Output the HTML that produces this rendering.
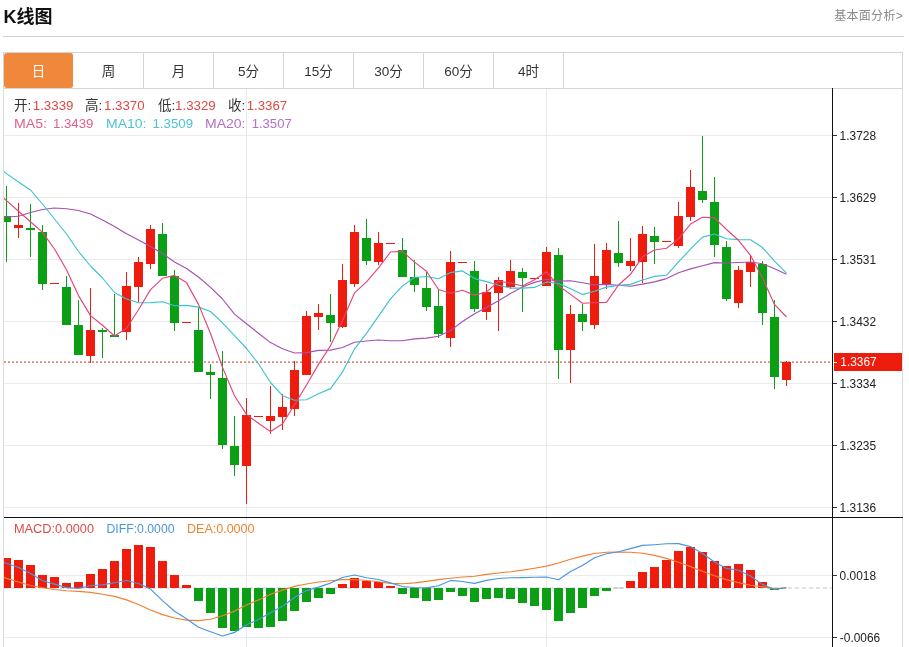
<!DOCTYPE html>
<html lang="zh-CN">
<head>
<meta charset="utf-8">
<title>K线图</title>
<style>
html,body{margin:0;padding:0;background:#fff;}
body{width:909px;height:647px;position:relative;overflow:hidden;font-family:"Liberation Sans","Noto Sans CJK SC",sans-serif;color:#333;}
.title{position:absolute;left:3.5px;top:4px;font-size:18px;font-weight:bold;line-height:26px;color:#111;letter-spacing:0;}
.more{position:absolute;right:6px;top:7px;font-size:12px;line-height:18px;color:#8a8a8a;letter-spacing:0.3px;}
.hr{position:absolute;left:3px;top:36px;width:901px;height:1px;background:#cfcfcf;}
.tabs{position:absolute;left:3px;top:52px;width:898px;height:35px;border:1px solid #d4d4d4;}
.tab{float:left;width:69px;height:35px;line-height:37px;text-align:center;font-size:13.5px;border-right:1px solid #d4d4d4;color:#333;}
.tab.on{background:#f0883c;color:#fff;border-radius:3px;border-right-color:#fff;}
.chart{position:absolute;left:0;top:88px;}
</style>
</head>
<body>
<div class="title">K线图</div>
<div class="more">基本面分析&gt;</div>
<div class="hr"></div>
<div class="tabs">
<div class="tab on">日</div><div class="tab">周</div><div class="tab">月</div><div class="tab">5分</div><div class="tab">15分</div><div class="tab">30分</div><div class="tab">60分</div><div class="tab">4时</div>
</div>
<svg class="chart" width="909" height="559" viewBox="0 88 909 559">
<defs><clipPath id="cp"><rect x="4" y="89" width="828" height="558"/></clipPath></defs>
<g stroke="#ebebeb" stroke-width="1" shape-rendering="crispEdges">
<line x1="4" y1="135.5" x2="832" y2="135.5"/>
<line x1="4" y1="197.5" x2="832" y2="197.5"/>
<line x1="4" y1="259.5" x2="832" y2="259.5"/>
<line x1="4" y1="321.5" x2="832" y2="321.5"/>
<line x1="4" y1="383.5" x2="832" y2="383.5"/>
<line x1="4" y1="445.5" x2="832" y2="445.5"/>
<line x1="4" y1="507.5" x2="832" y2="507.5"/>
<line x1="4" y1="575.5" x2="832" y2="575.5"/>
<line x1="4" y1="637.5" x2="832" y2="637.5"/>
<line x1="246.5" y1="89" x2="246.5" y2="647" stroke="#e6eaee"/>
<line x1="546.5" y1="89" x2="546.5" y2="647" stroke="#e6eaee"/>
</g>
<g shape-rendering="crispEdges">
<line x1="3.5" y1="88" x2="3.5" y2="647" stroke="#dedede"/>
<line x1="902.5" y1="88" x2="902.5" y2="647" stroke="#dedede"/>
<line x1="832.5" y1="88" x2="832.5" y2="647" stroke="#111"/>
<line x1="4" y1="517.5" x2="903" y2="517.5" stroke="#111" stroke-width="1"/>
</g>
<g stroke="#333" shape-rendering="crispEdges">
<line x1="833" y1="135.5" x2="837" y2="135.5"/>
<line x1="833" y1="197.5" x2="837" y2="197.5"/>
<line x1="833" y1="259.5" x2="837" y2="259.5"/>
<line x1="833" y1="321.5" x2="837" y2="321.5"/>
<line x1="833" y1="383.5" x2="837" y2="383.5"/>
<line x1="833" y1="445.5" x2="837" y2="445.5"/>
<line x1="833" y1="507.5" x2="837" y2="507.5"/>
<line x1="833" y1="575.5" x2="837" y2="575.5"/>
<line x1="833" y1="637.5" x2="837" y2="637.5"/>
</g>
<g font-family="'Liberation Sans', sans-serif" font-size="12" fill="#222">
<text x="839.6" y="139.5" textLength="36.4" lengthAdjust="spacingAndGlyphs">1.3728</text>
<text x="839.6" y="201.5" textLength="36.4" lengthAdjust="spacingAndGlyphs">1.3629</text>
<text x="839.6" y="263.5" textLength="36.4" lengthAdjust="spacingAndGlyphs">1.3531</text>
<text x="839.6" y="325.5" textLength="36.4" lengthAdjust="spacingAndGlyphs">1.3432</text>
<text x="839.6" y="387.5" textLength="36.4" lengthAdjust="spacingAndGlyphs">1.3334</text>
<text x="839.6" y="449.5" textLength="36.4" lengthAdjust="spacingAndGlyphs">1.3235</text>
<text x="839.6" y="511.5" textLength="36.4" lengthAdjust="spacingAndGlyphs">1.3136</text>
<text x="839.6" y="579.5" textLength="36.4" lengthAdjust="spacingAndGlyphs">0.0018</text>
<text x="839.8" y="641.5" textLength="40.4" lengthAdjust="spacingAndGlyphs">-0.0066</text>
</g>
<line x1="4" y1="588" x2="832" y2="588" stroke="#b4cad6" stroke-width="1" stroke-dasharray="4 3"/>
<g clip-path="url(#cp)" shape-rendering="crispEdges">
<rect x="2" y="558" width="9" height="30" fill="#ee1c0c"/>
<rect x="14" y="560" width="9" height="28" fill="#ee1c0c"/>
<rect x="26" y="565" width="9" height="23" fill="#ee1c0c"/>
<rect x="38" y="575" width="9" height="13" fill="#ee1c0c"/>
<rect x="50" y="577" width="9" height="11" fill="#ee1c0c"/>
<rect x="62" y="583" width="9" height="5" fill="#ee1c0c"/>
<rect x="74" y="582" width="9" height="6" fill="#ee1c0c"/>
<rect x="86" y="574" width="9" height="14" fill="#ee1c0c"/>
<rect x="98" y="569" width="9" height="19" fill="#ee1c0c"/>
<rect x="110" y="561" width="9" height="27" fill="#ee1c0c"/>
<rect x="122" y="549" width="9" height="39" fill="#ee1c0c"/>
<rect x="134" y="545" width="9" height="43" fill="#ee1c0c"/>
<rect x="146" y="547" width="9" height="41" fill="#ee1c0c"/>
<rect x="158" y="561" width="9" height="27" fill="#ee1c0c"/>
<rect x="170" y="575" width="9" height="13" fill="#ee1c0c"/>
<rect x="182" y="585" width="9" height="3" fill="#ee1c0c"/>
<rect x="194" y="588" width="9" height="13" fill="#0a9f14"/>
<rect x="206" y="588" width="9" height="25" fill="#0a9f14"/>
<rect x="218" y="588" width="9" height="40" fill="#0a9f14"/>
<rect x="230" y="588" width="9" height="43" fill="#0a9f14"/>
<rect x="242" y="588" width="9" height="39" fill="#0a9f14"/>
<rect x="254" y="588" width="9" height="40" fill="#0a9f14"/>
<rect x="266" y="588" width="9" height="39" fill="#0a9f14"/>
<rect x="278" y="588" width="9" height="33" fill="#0a9f14"/>
<rect x="290" y="588" width="9" height="23" fill="#0a9f14"/>
<rect x="302" y="588" width="9" height="14" fill="#0a9f14"/>
<rect x="314" y="588" width="9" height="10" fill="#0a9f14"/>
<rect x="326" y="588" width="9" height="6" fill="#0a9f14"/>
<rect x="338" y="584" width="9" height="4" fill="#ee1c0c"/>
<rect x="350" y="578" width="9" height="10" fill="#ee1c0c"/>
<rect x="362" y="581" width="9" height="7" fill="#ee1c0c"/>
<rect x="374" y="582" width="9" height="6" fill="#ee1c0c"/>
<rect x="386" y="586" width="9" height="2" fill="#ee1c0c"/>
<rect x="398" y="588" width="9" height="6" fill="#0a9f14"/>
<rect x="410" y="588" width="9" height="10" fill="#0a9f14"/>
<rect x="422" y="588" width="9" height="13" fill="#0a9f14"/>
<rect x="434" y="588" width="9" height="12" fill="#0a9f14"/>
<rect x="446" y="588" width="9" height="4" fill="#0a9f14"/>
<rect x="458" y="588" width="9" height="8" fill="#0a9f14"/>
<rect x="470" y="588" width="9" height="14" fill="#0a9f14"/>
<rect x="482" y="588" width="9" height="11" fill="#0a9f14"/>
<rect x="494" y="588" width="9" height="10" fill="#0a9f14"/>
<rect x="506" y="588" width="9" height="11" fill="#0a9f14"/>
<rect x="518" y="588" width="9" height="15" fill="#0a9f14"/>
<rect x="530" y="588" width="9" height="18" fill="#0a9f14"/>
<rect x="542" y="588" width="9" height="22" fill="#0a9f14"/>
<rect x="554" y="588" width="9" height="33" fill="#0a9f14"/>
<rect x="566" y="588" width="9" height="25" fill="#0a9f14"/>
<rect x="578" y="588" width="9" height="20" fill="#0a9f14"/>
<rect x="590" y="588" width="9" height="8" fill="#0a9f14"/>
<rect x="602" y="588" width="9" height="3" fill="#0a9f14"/>
<rect x="614" y="587.5" width="9" height="1" fill="#b9b9b9" shape-rendering="auto"/>
<rect x="626" y="581" width="9" height="7" fill="#ee1c0c"/>
<rect x="638" y="572" width="9" height="16" fill="#ee1c0c"/>
<rect x="650" y="567" width="9" height="21" fill="#ee1c0c"/>
<rect x="662" y="560" width="9" height="28" fill="#ee1c0c"/>
<rect x="674" y="551" width="9" height="37" fill="#ee1c0c"/>
<rect x="686" y="547" width="9" height="41" fill="#ee1c0c"/>
<rect x="698" y="552" width="9" height="36" fill="#ee1c0c"/>
<rect x="710" y="561" width="9" height="27" fill="#ee1c0c"/>
<rect x="722" y="566" width="9" height="22" fill="#ee1c0c"/>
<rect x="734" y="564" width="9" height="24" fill="#ee1c0c"/>
<rect x="746" y="570" width="9" height="18" fill="#ee1c0c"/>
<rect x="758" y="582" width="9" height="6" fill="#ee1c0c"/>
<rect x="770" y="588" width="9" height="2" fill="#0a9f14"/>
</g>
<line x1="4" y1="362.1" x2="832" y2="362.1" stroke="rgb(205,45,25)" stroke-opacity="0.78" stroke-width="1.1" stroke-dasharray="2 2"/>
<g clip-path="url(#cp)" shape-rendering="crispEdges">
<rect x="6" y="186" width="1" height="76" fill="#0a9f14"/>
<rect x="2" y="216" width="9" height="6" fill="#0a9f14"/>
<rect x="18" y="203" width="1" height="35" fill="#ee1c0c"/>
<rect x="14" y="225" width="9" height="3" fill="#ee1c0c"/>
<rect x="30" y="204" width="1" height="53" fill="#0a9f14"/>
<rect x="26" y="228" width="9" height="2" fill="#0a9f14"/>
<rect x="42" y="225" width="1" height="65" fill="#0a9f14"/>
<rect x="38" y="232" width="9" height="52" fill="#0a9f14"/>
<rect x="50" y="283" width="9" height="1" fill="#ee1c0c"/>
<rect x="66" y="276" width="1" height="49" fill="#0a9f14"/>
<rect x="62" y="287" width="9" height="38" fill="#0a9f14"/>
<rect x="78" y="300" width="1" height="55" fill="#0a9f14"/>
<rect x="74" y="325" width="9" height="30" fill="#0a9f14"/>
<rect x="90" y="288" width="1" height="75" fill="#ee1c0c"/>
<rect x="86" y="330" width="9" height="26" fill="#ee1c0c"/>
<rect x="102" y="328" width="1" height="30" fill="#0a9f14"/>
<rect x="98" y="330" width="9" height="2" fill="#0a9f14"/>
<rect x="114" y="294" width="1" height="43" fill="#0a9f14"/>
<rect x="110" y="335" width="9" height="2" fill="#0a9f14"/>
<rect x="126" y="272" width="1" height="68" fill="#ee1c0c"/>
<rect x="122" y="286" width="9" height="46" fill="#ee1c0c"/>
<rect x="138" y="257" width="1" height="45" fill="#ee1c0c"/>
<rect x="134" y="262" width="9" height="25" fill="#ee1c0c"/>
<rect x="150" y="225" width="1" height="44" fill="#ee1c0c"/>
<rect x="146" y="229" width="9" height="35" fill="#ee1c0c"/>
<rect x="162" y="223" width="1" height="53" fill="#0a9f14"/>
<rect x="158" y="234" width="9" height="42" fill="#0a9f14"/>
<rect x="174" y="270" width="1" height="61" fill="#0a9f14"/>
<rect x="170" y="276" width="9" height="47" fill="#0a9f14"/>
<rect x="182" y="322" width="9" height="1" fill="#ee1c0c"/>
<rect x="198" y="308" width="1" height="64" fill="#0a9f14"/>
<rect x="194" y="330" width="9" height="42" fill="#0a9f14"/>
<rect x="210" y="364" width="1" height="35" fill="#0a9f14"/>
<rect x="206" y="372" width="9" height="3" fill="#0a9f14"/>
<rect x="222" y="351" width="1" height="98" fill="#0a9f14"/>
<rect x="218" y="378" width="9" height="67" fill="#0a9f14"/>
<rect x="234" y="416" width="1" height="60" fill="#0a9f14"/>
<rect x="230" y="446" width="9" height="19" fill="#0a9f14"/>
<rect x="246" y="398" width="1" height="106" fill="#ee1c0c"/>
<rect x="242" y="415" width="9" height="51" fill="#ee1c0c"/>
<rect x="254" y="416" width="9" height="1" fill="#ee1c0c"/>
<rect x="270" y="386" width="1" height="48" fill="#ee1c0c"/>
<rect x="266" y="416" width="9" height="5" fill="#ee1c0c"/>
<rect x="282" y="394" width="1" height="36" fill="#ee1c0c"/>
<rect x="278" y="407" width="9" height="10" fill="#ee1c0c"/>
<rect x="294" y="361" width="1" height="55" fill="#ee1c0c"/>
<rect x="290" y="370" width="9" height="39" fill="#ee1c0c"/>
<rect x="306" y="311" width="1" height="64" fill="#ee1c0c"/>
<rect x="302" y="316" width="9" height="59" fill="#ee1c0c"/>
<rect x="318" y="304" width="1" height="26" fill="#ee1c0c"/>
<rect x="314" y="313" width="9" height="4" fill="#ee1c0c"/>
<rect x="330" y="294" width="1" height="48" fill="#0a9f14"/>
<rect x="326" y="315" width="9" height="8" fill="#0a9f14"/>
<rect x="342" y="264" width="1" height="64" fill="#ee1c0c"/>
<rect x="338" y="280" width="9" height="47" fill="#ee1c0c"/>
<rect x="354" y="225" width="1" height="62" fill="#ee1c0c"/>
<rect x="350" y="232" width="9" height="52" fill="#ee1c0c"/>
<rect x="366" y="219" width="1" height="46" fill="#0a9f14"/>
<rect x="362" y="238" width="9" height="23" fill="#0a9f14"/>
<rect x="378" y="232" width="1" height="33" fill="#ee1c0c"/>
<rect x="374" y="243" width="9" height="19" fill="#ee1c0c"/>
<rect x="386" y="243" width="9" height="1" fill="#ee1c0c"/>
<rect x="402" y="238" width="1" height="39" fill="#0a9f14"/>
<rect x="398" y="250" width="9" height="27" fill="#0a9f14"/>
<rect x="414" y="260" width="1" height="32" fill="#0a9f14"/>
<rect x="410" y="277" width="9" height="8" fill="#0a9f14"/>
<rect x="426" y="272" width="1" height="39" fill="#0a9f14"/>
<rect x="422" y="288" width="9" height="19" fill="#0a9f14"/>
<rect x="438" y="290" width="1" height="48" fill="#0a9f14"/>
<rect x="434" y="306" width="9" height="28" fill="#0a9f14"/>
<rect x="450" y="251" width="1" height="96" fill="#ee1c0c"/>
<rect x="446" y="262" width="9" height="76" fill="#ee1c0c"/>
<rect x="458" y="262" width="9" height="1" fill="#ee1c0c"/>
<rect x="474" y="261" width="1" height="51" fill="#0a9f14"/>
<rect x="470" y="271" width="9" height="38" fill="#0a9f14"/>
<rect x="486" y="284" width="1" height="36" fill="#ee1c0c"/>
<rect x="482" y="292" width="9" height="20" fill="#ee1c0c"/>
<rect x="498" y="277" width="1" height="54" fill="#ee1c0c"/>
<rect x="494" y="280" width="9" height="13" fill="#ee1c0c"/>
<rect x="510" y="260" width="1" height="29" fill="#ee1c0c"/>
<rect x="506" y="271" width="9" height="16" fill="#ee1c0c"/>
<rect x="522" y="268" width="1" height="44" fill="#0a9f14"/>
<rect x="518" y="272" width="9" height="6" fill="#0a9f14"/>
<rect x="530" y="278" width="9" height="1" fill="#ee1c0c"/>
<rect x="546" y="247" width="1" height="39" fill="#ee1c0c"/>
<rect x="542" y="252" width="9" height="34" fill="#ee1c0c"/>
<rect x="558" y="248" width="1" height="131" fill="#0a9f14"/>
<rect x="554" y="255" width="9" height="95" fill="#0a9f14"/>
<rect x="570" y="305" width="1" height="78" fill="#ee1c0c"/>
<rect x="566" y="314" width="9" height="36" fill="#ee1c0c"/>
<rect x="582" y="304" width="1" height="27" fill="#0a9f14"/>
<rect x="578" y="314" width="9" height="8" fill="#0a9f14"/>
<rect x="594" y="244" width="1" height="85" fill="#ee1c0c"/>
<rect x="590" y="276" width="9" height="49" fill="#ee1c0c"/>
<rect x="606" y="243" width="1" height="46" fill="#ee1c0c"/>
<rect x="602" y="250" width="9" height="34" fill="#ee1c0c"/>
<rect x="618" y="221" width="1" height="46" fill="#0a9f14"/>
<rect x="614" y="253" width="9" height="10" fill="#0a9f14"/>
<rect x="630" y="238" width="1" height="33" fill="#ee1c0c"/>
<rect x="626" y="261" width="9" height="5" fill="#ee1c0c"/>
<rect x="642" y="226" width="1" height="57" fill="#ee1c0c"/>
<rect x="638" y="234" width="9" height="28" fill="#ee1c0c"/>
<rect x="654" y="227" width="1" height="37" fill="#0a9f14"/>
<rect x="650" y="236" width="9" height="6" fill="#0a9f14"/>
<rect x="662" y="241" width="9" height="1" fill="#ee1c0c"/>
<rect x="678" y="202" width="1" height="46" fill="#ee1c0c"/>
<rect x="674" y="216" width="9" height="30" fill="#ee1c0c"/>
<rect x="690" y="170" width="1" height="51" fill="#ee1c0c"/>
<rect x="686" y="187" width="9" height="30" fill="#ee1c0c"/>
<rect x="702" y="136" width="1" height="67" fill="#0a9f14"/>
<rect x="698" y="191" width="9" height="9" fill="#0a9f14"/>
<rect x="714" y="177" width="1" height="80" fill="#0a9f14"/>
<rect x="710" y="202" width="9" height="43" fill="#0a9f14"/>
<rect x="726" y="241" width="1" height="60" fill="#0a9f14"/>
<rect x="722" y="247" width="9" height="52" fill="#0a9f14"/>
<rect x="738" y="266" width="1" height="42" fill="#ee1c0c"/>
<rect x="734" y="270" width="9" height="33" fill="#ee1c0c"/>
<rect x="750" y="256" width="1" height="31" fill="#ee1c0c"/>
<rect x="746" y="262" width="9" height="10" fill="#ee1c0c"/>
<rect x="762" y="261" width="1" height="64" fill="#0a9f14"/>
<rect x="758" y="264" width="9" height="49" fill="#0a9f14"/>
<rect x="774" y="300" width="1" height="89" fill="#0a9f14"/>
<rect x="770" y="317" width="9" height="60" fill="#0a9f14"/>
<rect x="786" y="361" width="1" height="25" fill="#ee1c0c"/>
<rect x="782" y="362" width="9" height="18" fill="#ee1c0c"/>
</g>
<g clip-path="url(#cp)">
<polyline points="-5.5,217.3 6.5,217.0 18.5,216.2 30.5,212.5 42.5,209.5 54.5,208.0 66.5,208.7 78.5,210.5 90.5,214.0 102.5,220.0 114.5,226.5 126.5,233.7 138.5,240.0 150.5,246.5 162.5,253.5 174.5,262.0 186.5,268.5 198.5,277.0 210.5,287.4 222.5,299.0 234.5,314.1 246.5,323.7 258.5,333.3 270.5,342.6 282.5,348.7 294.5,353.0 306.5,352.6 318.5,350.4 330.5,350.1 342.5,347.5 354.5,342.2 366.5,341.0 378.5,340.0 390.5,340.7 402.5,340.8 414.5,338.9 426.5,338.1 438.5,336.3 450.5,330.6 462.5,321.5 474.5,313.7 486.5,307.5 498.5,300.7 510.5,293.5 522.5,287.0 534.5,282.4 546.5,279.2 558.5,281.1 570.5,280.7 582.5,282.7 594.5,284.9 606.5,284.4 618.5,285.3 630.5,286.2 642.5,284.1 654.5,281.9 666.5,278.6 678.5,272.7 690.5,268.9 702.5,265.8 714.5,262.6 726.5,263.0 738.5,262.5 750.5,262.0 762.5,263.8 774.5,268.8 786.5,274.3" fill="none" stroke="#a64fb5" stroke-width="1.15" stroke-linejoin="round" />
<polyline points="-5.5,165.0 6.5,173.6 18.5,182.0 30.5,190.0 42.5,204.0 54.5,219.0 66.5,234.0 78.5,251.5 90.5,266.0 102.5,278.0 114.5,292.5 126.5,299.0 138.5,302.7 150.5,302.6 162.5,301.7 174.5,305.7 186.5,305.4 198.5,307.1 210.5,311.5 222.5,322.8 234.5,335.6 246.5,348.5 258.5,363.8 270.5,382.5 282.5,395.7 294.5,400.3 306.5,399.7 318.5,393.8 330.5,388.6 342.5,372.1 354.5,348.9 366.5,333.4 378.5,316.1 390.5,298.9 402.5,285.9 414.5,277.5 426.5,276.5 438.5,278.7 450.5,272.6 462.5,270.9 474.5,278.6 486.5,281.6 498.5,285.3 510.5,288.1 522.5,288.1 534.5,287.4 546.5,281.9 558.5,283.5 570.5,288.7 582.5,294.6 594.5,291.2 606.5,287.1 618.5,285.4 630.5,284.4 642.5,280.0 654.5,276.4 666.5,275.3 678.5,261.9 690.5,249.2 702.5,237.1 714.5,234.0 726.5,238.8 738.5,239.6 750.5,239.7 762.5,247.6 774.5,261.1 786.5,273.2" fill="none" stroke="#3dc2d0" stroke-width="1.15" stroke-linejoin="round" />
<polyline points="-5.5,190.0 6.5,200.6 18.5,211.2 30.5,221.8 42.5,232.4 54.5,249.0 66.5,269.7 78.5,295.6 90.5,315.6 102.5,325.2 114.5,336.0 126.5,328.3 138.5,309.7 150.5,289.6 162.5,278.3 174.5,275.4 186.5,282.6 198.5,304.4 210.5,333.5 222.5,367.4 234.5,395.8 246.5,414.4 258.5,423.3 270.5,431.6 282.5,423.9 294.5,404.8 306.5,385.0 318.5,364.4 330.5,345.7 342.5,320.4 354.5,292.9 366.5,281.9 378.5,267.9 390.5,252.0 402.5,251.4 414.5,262.1 426.5,271.2 438.5,289.5 450.5,293.3 462.5,290.3 474.5,295.1 486.5,292.1 498.5,281.2 510.5,283.0 522.5,286.0 534.5,279.8 546.5,271.8 558.5,285.8 570.5,294.4 582.5,303.2 594.5,302.7 606.5,302.4 618.5,285.0 630.5,274.3 642.5,256.8 654.5,250.0 666.5,248.2 678.5,238.9 690.5,224.1 702.5,217.3 714.5,217.9 726.5,229.5 738.5,240.3 750.5,255.3 762.5,277.9 774.5,304.4 786.5,317.0" fill="none" stroke="#e2457a" stroke-width="1.15" stroke-linejoin="round" />
<polyline points="-5.5,574.8 6.5,578.4 18.5,582.0 30.5,585.5 42.5,587.8 54.5,589.5 66.5,590.7 78.5,591.4 90.5,592.4 102.5,594.2 114.5,596.4 126.5,599.9 138.5,604.5 150.5,610.0 162.5,614.6 174.5,618.0 186.5,620.1 198.5,620.6 210.5,619.3 222.5,615.8 234.5,611.1 246.5,605.0 258.5,599.9 270.5,594.2 282.5,590.1 294.5,586.4 306.5,584.0 318.5,582.0 330.5,580.8 342.5,579.6 354.5,579.5 366.5,580.5 378.5,581.7 390.5,583.4 402.5,583.8 414.5,582.9 426.5,581.4 438.5,579.6 450.5,578.3 462.5,577.0 474.5,576.2 486.5,574.4 498.5,573.0 510.5,571.7 522.5,570.1 534.5,568.2 546.5,566.1 558.5,563.0 570.5,559.2 582.5,556.1 594.5,553.5 606.5,552.3 618.5,552.0 630.5,552.3 642.5,553.2 654.5,555.4 666.5,558.4 678.5,562.3 690.5,566.6 702.5,571.3 714.5,575.7 726.5,579.6 738.5,582.6 750.5,585.2 762.5,586.9 774.5,588.6 786.5,587.8" fill="none" stroke="#f08030" stroke-width="1.15" stroke-linejoin="round" />
<polyline points="-5.5,559.5 6.5,563.3 18.5,567.5 30.5,573.6 42.5,580.8 54.5,584.1 66.5,587.6 78.5,588.4 90.5,585.8 102.5,584.9 114.5,582.7 126.5,580.5 138.5,583.5 150.5,589.1 162.5,600.6 174.5,611.3 186.5,618.8 198.5,627.3 210.5,631.8 222.5,636.0 234.5,632.4 246.5,624.7 258.5,619.5 270.5,612.8 282.5,606.2 294.5,597.5 306.5,590.6 318.5,587.1 330.5,583.1 342.5,577.5 354.5,575.0 366.5,577.8 378.5,579.5 390.5,582.9 402.5,586.5 414.5,587.5 426.5,587.9 438.5,585.8 450.5,580.4 462.5,581.5 474.5,583.4 486.5,580.4 498.5,578.5 510.5,577.7 522.5,577.6 534.5,577.3 546.5,577.0 558.5,579.8 570.5,571.5 582.5,565.4 594.5,557.8 606.5,553.7 618.5,551.7 630.5,548.6 642.5,545.4 654.5,544.7 666.5,543.8 678.5,543.6 690.5,546.6 702.5,553.5 714.5,562.0 726.5,568.4 738.5,570.2 750.5,576.0 762.5,584.6 774.5,589.3 786.5,587.8" fill="none" stroke="#4a96e0" stroke-width="1.15" stroke-linejoin="round" />
</g>
<rect x="834" y="353" width="68" height="18" fill="#ee1c0c" shape-rendering="crispEdges"/>
<line x1="833" y1="362.5" x2="837" y2="362.5" stroke="#fff" shape-rendering="crispEdges"/>
<text x="840.3" y="366.4" font-family="'Liberation Sans', sans-serif" font-size="12" fill="#fff" textLength="36.4" lengthAdjust="spacingAndGlyphs">1.3367</text>
<g font-family="'Liberation Sans', 'Noto Sans CJK SC', sans-serif" font-size="13.5">
<text y="110.1"><tspan x="14" fill="#333">开:</tspan><tspan x="32.8" fill="#dc4a44" textLength="40.6" lengthAdjust="spacingAndGlyphs">1.3339</tspan></text>
<text y="110.1"><tspan x="85" fill="#333">高:</tspan><tspan x="104" fill="#dc4a44" textLength="40.6" lengthAdjust="spacingAndGlyphs">1.3370</tspan></text>
<text y="110.1"><tspan x="158" fill="#333">低:</tspan><tspan x="175.1" fill="#dc4a44" textLength="40.6" lengthAdjust="spacingAndGlyphs">1.3329</tspan></text>
<text y="110.1"><tspan x="228" fill="#333">收:</tspan><tspan x="246.7" fill="#dc4a44" textLength="40.4" lengthAdjust="spacingAndGlyphs">1.3367</tspan></text>
<text y="127.9" fill="#e0608c"><tspan x="14" textLength="33" lengthAdjust="spacingAndGlyphs">MA5:</tspan> <tspan x="53" textLength="40.4" lengthAdjust="spacingAndGlyphs">1.3439</tspan></text>
<text y="127.9" fill="#4cc3d2"><tspan x="106" textLength="40.5" lengthAdjust="spacingAndGlyphs">MA10:</tspan> <tspan x="152.5" textLength="40.5" lengthAdjust="spacingAndGlyphs">1.3509</tspan></text>
<text y="127.9" fill="#b070c8"><tspan x="205" textLength="40.5" lengthAdjust="spacingAndGlyphs">MA20:</tspan> <tspan x="251.7" textLength="40" lengthAdjust="spacingAndGlyphs">1.3507</tspan></text>
</g>
<g font-family="'Liberation Sans', sans-serif" font-size="12">
<text x="14" y="532.8" fill="#dc4a44" textLength="80" lengthAdjust="spacingAndGlyphs">MACD:0.0000</text>
<text x="106.5" y="532.8" fill="#4a96e0" textLength="68" lengthAdjust="spacingAndGlyphs">DIFF:0.0000</text>
<text x="187" y="532.8" fill="#f08030" textLength="67.5" lengthAdjust="spacingAndGlyphs">DEA:0.0000</text>
</g>
</svg>
</body>
</html>
